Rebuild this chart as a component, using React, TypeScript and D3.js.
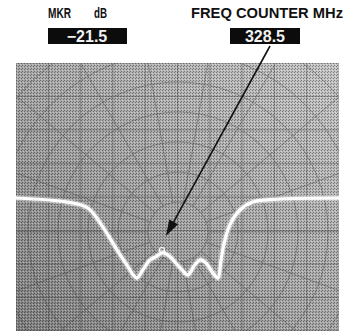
import React from "react";
import * as d3 from "d3";

// Sweep frequency (MHz) and level (dB) of the white trace
const traceMHz = [298.0, 308.7, 313.0, 315.6, 317.6, 319.1, 321.2, 322.5, 323.3, 324.5, 326.0, 327.3, 328.5, 329.8, 331.2, 332.7, 333.9, 335.2, 336.5, 337.7, 339.0, 340.2, 340.8, 341.4, 342.7, 344.8, 347.5, 353.2, 365.5];
const traceDB = [0, -1.6, -3.9, -9.8, -15.6, -20.3, -26.2, -30.1, -31.3, -28.1, -24.2, -22.9, -21.5, -22.3, -25.0, -28.1, -30.1, -26.6, -24.2, -25.4, -28.9, -31.3, -25.0, -18.4, -10.5, -4.7, -1.6, -0.4, 0];

const markerMHz = 328.5;
const markerDB = -21.5;

const headerLabels = ["MKR", "dB", "FREQ COUNTER MHz"];
const readouts = ["\u221221.5", "328.5"];

const gratX = d3.range(0, 11);
const gratY = d3.range(0, 9);
const polarRadii = [30, 60, 90, 120, 150, 180, 210];
const polarAngles = d3.range(0, 360, 20);

export default function App() {
  const W = 350, H = 331;
  const L = 16, R = 339, T = 63, B = 331;
  const x = d3.scaleLinear().domain([298, 365.5]).range([L, R]);
  const y = d3.scaleLinear().domain([0, -21.5]).range([198, 253]);
  const gx = d3.scaleLinear().domain([0, 10]).range([L, R]);
  const gy = d3.scaleLinear().domain([0, 8]).range([T, B]);

  const line = d3.line<number>()
    .x((_, i) => x(traceMHz[i]))
    .y((d) => y(d))
    .curve(d3.curveCatmullRom.alpha(0.5));
  const pathD = line(traceDB) || "";

  const cx = 178, cy = 232;
  const mx = x(markerMHz), my = y(markerDB);
  const arrowStart: [number, number] = [270, 46];
  const arrowTip: [number, number] = [mx + 4, my - 17];
  const ang = Math.atan2(arrowTip[1] - arrowStart[1], arrowTip[0] - arrowStart[0]);
  const hl = 16, hw = 5;
  const bx = arrowTip[0] - hl * Math.cos(ang), by = arrowTip[1] - hl * Math.sin(ang);
  const head = [
    arrowTip,
    [bx + hw * Math.sin(ang), by - hw * Math.cos(ang)],
    [bx - hw * Math.sin(ang), by + hw * Math.cos(ang)],
  ].map((p) => p.join(",")).join(" ");

  return (
    <svg width={W} height={H} style={{ display: "block", position: "absolute", left: 0, top: 0 }}>
      <defs>
        <linearGradient id="bg" x1="0" y1="1" x2="1" y2="0">
          <stop offset="0" stopColor="#808080" />
          <stop offset="0.5" stopColor="#a8a8a8" />
          <stop offset="1" stopColor="#c6c6c6" />
        </linearGradient>
        <pattern id="dots" width="3" height="3" patternUnits="userSpaceOnUse">
          <rect x="0" y="0" width="1" height="1" fill="#000" />
          <rect x="2" y="1" width="1" height="1" fill="#fff" />
          <rect x="1" y="2" width="1" height="1" fill="#000" />
        </pattern>
        <clipPath id="scr">
          <rect x={L} y={T} width={R - L} height={B - T} />
        </clipPath>
      </defs>
      <rect x={0} y={0} width={W} height={H} fill="#fff" />
      <rect x={L} y={T} width={R - L} height={B - T} fill="url(#bg)" />
      <rect x={L} y={T} width={R - L} height={B - T} fill="url(#dots)" opacity={0.35} />
      <g clipPath="url(#scr)" stroke="#3a3a3a" fill="none" strokeWidth={1} opacity={0.38}>
        {gratX.map((i) => (
          <line key={"vx" + i} x1={gx(i)} x2={gx(i)} y1={T} y2={B} />
        ))}
        {gratY.map((i) => (
          <line key={"hy" + i} x1={L} x2={R} y1={gy(i)} y2={gy(i)} />
        ))}
        {polarRadii.map((r) => (
          <circle key={"c" + r} cx={cx} cy={cy} r={r} />
        ))}
        {polarAngles.map((a) => {
          const rad = (a * Math.PI) / 180;
          return (
            <line key={"a" + a} x1={cx + 30 * Math.cos(rad)} y1={cy + 30 * Math.sin(rad)}
              x2={cx + 210 * Math.cos(rad)} y2={cy + 210 * Math.sin(rad)} />
          );
        })}
      </g>
      <g clipPath="url(#scr)">
        <path d={pathD} fill="none" stroke="#ffffff" strokeOpacity={0.35} strokeWidth={6} />
        <path d={pathD} fill="none" stroke="#ffffff" strokeWidth={3.2} strokeLinejoin="round" />
        <circle cx={mx} cy={my - 3} r={2.5} fill="none" stroke="#fff" strokeWidth={1.2} />
      </g>
      <line x1={arrowStart[0]} y1={arrowStart[1]} x2={bx} y2={by} stroke="#111" strokeWidth={1.6} />
      <polygon points={head} fill="#111" />
      <g fontFamily="Liberation Sans, Arial, sans-serif" fontSize={14} fontWeight="bold" fill="#111">
        <text x={48} y={18} textLength={23} lengthAdjust="spacingAndGlyphs">{headerLabels[0]}</text>
        <text x={94} y={18} textLength={13} lengthAdjust="spacingAndGlyphs">{headerLabels[1]}</text>
        <text x={191} y={18} textLength={152} lengthAdjust="spacingAndGlyphs">{headerLabels[2]}</text>
      </g>
      <rect x={48} y={28} width={79} height={16} fill="#0c0c0c" />
      <rect x={230} y={28} width={70} height={16} fill="#0c0c0c" />
      <g fontFamily="Liberation Sans, Arial, sans-serif" fontSize={16} fontWeight="bold" fill="#f2f2f2">
        <text x={87} y={42} textAnchor="middle">{readouts[0]}</text>
        <text x={265} y={42} textAnchor="middle">{readouts[1]}</text>
      </g>
    </svg>
  );
}
